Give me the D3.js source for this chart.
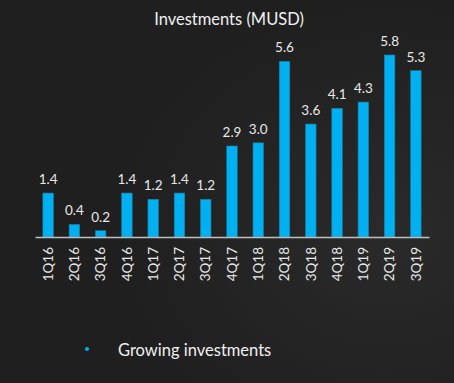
<!DOCTYPE html>
<html><head><meta charset="utf-8">
<script src="https://cdn.jsdelivr.net/npm/d3@7"></script>
<style>html,body{margin:0;padding:0;background:#1f1f1f;}svg{display:block;}</style>
</head><body>
<script>
const categories = ["1Q16","2Q16","3Q16","4Q16","1Q17","2Q17","3Q17","4Q17","1Q18","2Q18","3Q18","4Q18","1Q19","2Q19","3Q19"];
const values = [1.4,0.4,0.2,1.4,1.2,1.4,1.2,2.9,3.0,5.6,3.6,4.1,4.3,5.8,5.3];
const labels = ["1.4","0.4","0.2","1.4","1.2","1.4","1.2","2.9","3.0","5.6","3.6","4.1","4.3","5.8","5.3"];
const title = "Investments (MUSD)";
const bulletText = "Growing investments";

const W = 454, H = 383;
const svg = d3.select("body").append("svg").attr("width", W).attr("height", H);
const font = "Lato, 'Open Sans', sans-serif";

const defs = svg.append("defs");
const g1 = defs.append("radialGradient").attr("id","bg").attr("cx","0.85").attr("cy","0.6").attr("r","0.6");
g1.append("stop").attr("offset","0").attr("stop-color","#2a2a2a");
g1.append("stop").attr("offset","1").attr("stop-color","#1f1f1f");
svg.append("rect").attr("width",W).attr("height",H).attr("fill","#1f1f1f");
svg.append("rect").attr("width",W).attr("height",H).attr("fill","url(#bg)");

const x = d3.scaleBand().domain(categories).range([35, 429]).paddingInner(0.6).paddingOuter(0.3);
const y = d3.scaleLinear().domain([0, 5.8]).range([237, 55]);

svg.append("text").attr("x", 229).attr("y", 25).attr("text-anchor","middle")
  .attr("fill","#f0f0f0").attr("font-family",font).attr("font-size",16.5).text(title);

svg.append("g").selectAll("rect").data(values).join("rect")
  .attr("x",(d,i)=>x(categories[i])).attr("width",x.bandwidth())
  .attr("y",d=>y(d)).attr("height",d=>y(0)-y(d))
  .attr("fill","#00b0f0").attr("stroke","#1a7fa5").attr("stroke-width",0.6);

svg.append("g").selectAll("text").data(values).join("text")
  .attr("x",(d,i)=>x(categories[i])+x.bandwidth()/2).attr("y",d=>y(d)-9)
  .attr("text-anchor","middle").attr("fill","#e8e8e8").attr("font-family",font).attr("font-size",13.5)
  .text((d,i)=>labels[i]);

const axis = svg.append("g").attr("transform",`translate(0,${y(0)})`)
  .call(d3.axisBottom(x).tickSize(0).tickPadding(0));
axis.select(".domain").attr("stroke","#bfbfbf").attr("stroke-width",1.5);
axis.selectAll(".tick text").attr("fill","#e8e8e8").attr("font-family",font).attr("font-size",13.5)
  .attr("transform","rotate(-90)").attr("text-anchor","end").attr("dy","0.35em").attr("x",-10).attr("y",0);

svg.append("circle").attr("cx",87).attr("cy",349).attr("r",2).attr("fill","#00b0f0");
svg.append("text").attr("x",118).attr("y",356).attr("fill","#f0f0f0").attr("font-family",font).attr("font-size",16.5).text(bulletText);
</script>
</body></html>
